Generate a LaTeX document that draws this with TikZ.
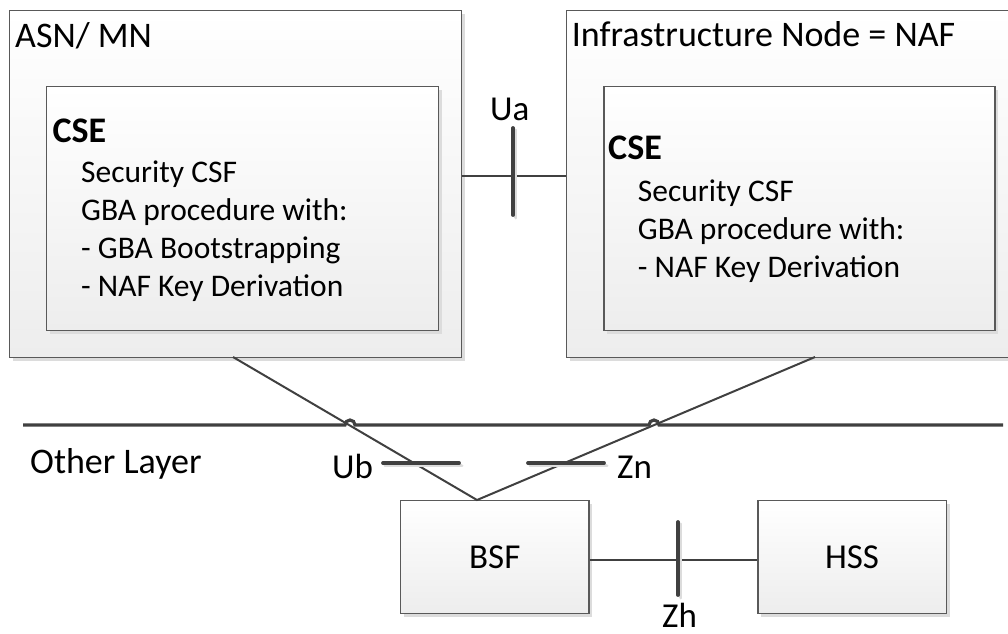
\documentclass[tikz,border=0pt]{standalone}
\usepackage{fontspec}
\setmainfont{Carlito}
\usetikzlibrary{shadows}
\definecolor{edge}{HTML}{595959}
\definecolor{conn}{HTML}{404040}
\definecolor{boxbot}{HTML}{EDEDED}
\definecolor{shade}{HTML}{DCDCDC}
\begin{document}
\begin{tikzpicture}[x=1pt,y=-1pt,
  boxsty/.style={draw=edge, line width=1.2pt, top color=white, bottom color=boxbot,
    drop shadow={shadow xshift=3.5pt, shadow yshift=-3.5pt, fill=shade, opacity=1},
    inner sep=0pt, anchor=north west, font=\fontsize{35}{42}\selectfont},
  conline/.style={draw=conn, line width=2pt},
  layerline/.style={draw=conn, line width=3.2pt},
  tickmark/.style={draw=conn, line width=3.8pt, line cap=round},
  tickshadow/.style={draw=shade, line width=3.8pt, line cap=round},
  txt/.style={anchor=base west, inner sep=0pt, font=\fontsize{31.5}{38}\selectfont},
  ttl/.style={anchor=base west, inner sep=0pt, font=\fontsize{36}{43}\selectfont},
  cse/.style={anchor=base west, inner sep=0pt, font=\fontsize{36}{43}\selectfont\bfseries},
  lbl/.style={anchor=base west, inner sep=0pt, font=\fontsize{35}{42}\selectfont},
]
\useasboundingbox (0,0) rectangle (1008,633);
\clip (0,0) rectangle (1008,633);

% boxes
\node[boxsty, minimum width=451.7pt, minimum height=347pt] (asn) at (9,10) {};
\node[boxsty, minimum width=450pt, minimum height=347pt] (infra) at (566,10) {};
\node[boxsty, minimum width=391.7pt, minimum height=244.3pt] (cseL) at (46,85.7) {};
\node[boxsty, minimum width=391pt, minimum height=244pt] (cseR) at (603.3,86) {};
\node[boxsty, minimum width=188.3pt, minimum height=113pt] (bsf) at (400,500) {BSF};
\node[boxsty, minimum width=188.4pt, minimum height=113pt] (hss) at (757.3,500) {HSS};

% helper coordinates
\coordinate (uay) at (0,176);
\coordinate (zhy) at (0,560);
\coordinate (bsfapex) at (477,500);
\coordinate (asnfoot) at (233,357);
\coordinate (infrafoot) at (815,357);

% connectors
\draw[conline] (asn.east |- uay) -- (infra.west |- uay);
\draw[conline] (asnfoot) -- (bsfapex) -- (infrafoot);
\draw[conline] (bsf.east |- zhy) -- (hss.west |- zhy);

% other layer line with hops
\draw[layerline] (23,425) -- (345,425) arc[start angle=180, end angle=360, radius=5]
  -- (649,425) arc[start angle=180, end angle=360, radius=5] -- (1003,425);

% interface ticks
\coordinate (uaA) at (513,128); \coordinate (uaB) at (513,215);
\coordinate (ubA) at (383,463); \coordinate (ubB) at (459,463);
\coordinate (znA) at (528,463); \coordinate (znB) at (604,463);
\coordinate (zhA) at (678,522); \coordinate (zhB) at (678,595);
\foreach \a/\b in {uaA/uaB, ubA/ubB, znA/znB, zhA/zhB}{
  \draw[tickshadow] ([shift={(2.5,2.5)}]\a) -- ([shift={(2.5,2.5)}]\b);
  \draw[tickmark] (\a) -- (\b);
}

% texts
\node[ttl] (tasn) at (15,47) {ASN/ MN};
\node[ttl] (tinfra) at (571.7,46) {Infrastructure Node = NAF};
\node[cse] (cseLt) at (52.3,142) {CSE};
\node[cse] (cseRt) at (608,159) {CSE};
\node[txt] (l1) at (81,182) {Security CSF};
\node[txt] (l2) at (81,220) {GBA procedure with:};
\node[txt] (l3) at (81,258) {- GBA Bootstrapping};
\node[txt] (l4) at (81,296) {- NAF Key Derivation};
\node[txt] (r1) at (637.7,201) {Security CSF};
\node[txt] (r2) at (637.7,239) {GBA procedure with:};
\node[txt] (r3) at (637.7,277) {- NAF Key Derivation};
\node[ttl] (tother) at (30,473) {Other Layer};
\node[lbl] (tub) at (332,478) {Ub};
\node[lbl] (tzn) at (617,478) {Zn};
\node[lbl] (tua) at (490,120) {Ua};
\node[lbl] (tzh) at (662,627) {Zh};
\end{tikzpicture}
\end{document}
